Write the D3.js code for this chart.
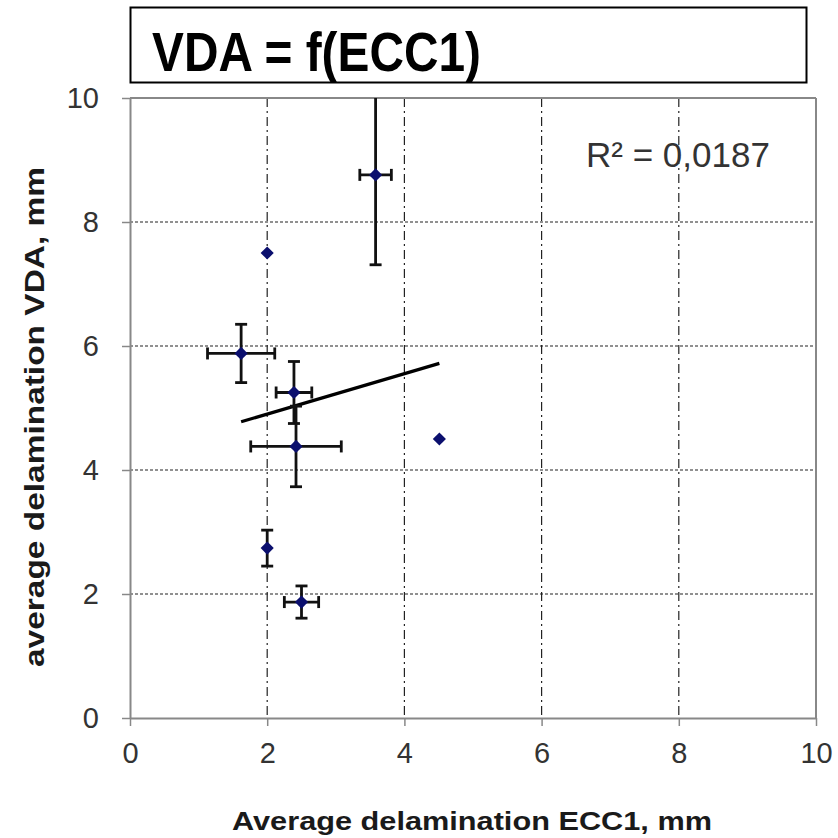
<!DOCTYPE html>
<html>
<head>
<meta charset="utf-8">
<script src="https://cdn.jsdelivr.net/npm/d3@7"></script>
<style>
  body { margin: 0; background: #fff; }
  text { font-family: Arial, "Liberation Sans", sans-serif; }
</style>
</head>
<body>
<div id="chart"></div>
<script>
// data
var ecc1 = [3.58, 2.0, 1.62, 2.39, 2.42, 4.51, 2.0, 2.5];
var vda = [8.76, 7.50, 5.88, 5.25, 4.38, 4.50, 2.74, 1.87];
var eccErr = [0.23, 0, 0.49, 0.26, 0.66, 0, 0, 0.25];
var vdaErr = [1.45, 0, 0.47, 0.50, 0.65, 0, 0.29, 0.26];
var trendCoef = [4.25, 0.326]; // intercept, slope
var rSquared = "R² = 0,0187";
var tickVals = [0, 2, 4, 6, 8, 10];

var width = 838, height = 838;
var plotLeft = 130, plotRight = 816, plotTop = 98, plotBottom = 718;

var svg = d3.select("#chart").append("svg")
  .attr("width", width)
  .attr("height", height);

var x = d3.scaleLinear().domain([0, 10]).range([plotLeft, plotRight]);
var y = d3.scaleLinear().domain([0, 10]).range([plotBottom, plotTop]);

// title box
svg.append("rect")
  .attr("x", 130.5).attr("y", 7.5)
  .attr("width", 676).attr("height", 75)
  .attr("fill", "#fff").attr("stroke", "#000").attr("stroke-width", 2);
svg.append("text")
  .attr("x", 152).attr("y", 71)
  .attr("font-size", 56).attr("font-weight", "bold")
  .attr("textLength", 329).attr("lengthAdjust", "spacingAndGlyphs")
  .text("VDA = f(ECC1)");

// gridlines
svg.append("g").selectAll("line")
  .data([2, 4, 6, 8]).join("line")
  .attr("x1", plotLeft).attr("x2", plotRight)
  .attr("y1", d => y(d)).attr("y2", d => y(d))
  .attr("stroke", "#222").attr("stroke-width", 1.2)
  .attr("stroke-dasharray", "3,2");
svg.append("g").selectAll("line")
  .data([2, 4, 6, 8]).join("line")
  .attr("x1", d => x(d)).attr("x2", d => x(d))
  .attr("y1", plotTop).attr("y2", plotBottom)
  .attr("stroke", "#222").attr("stroke-width", 1.2)
  .attr("stroke-dasharray", "9,4,2,4");

// plot frame (top and right)
svg.append("line").attr("x1", plotLeft).attr("x2", plotRight).attr("y1", plotTop).attr("y2", plotTop)
  .attr("stroke", "#888").attr("stroke-width", 2);
svg.append("line").attr("x1", plotRight).attr("x2", plotRight).attr("y1", plotTop).attr("y2", plotBottom)
  .attr("stroke", "#888").attr("stroke-width", 2);

// axes
var xAxis = svg.append("g")
  .attr("transform", "translate(0," + plotBottom + ")")
  .call(d3.axisBottom(x).tickValues(tickVals).tickSizeInner(8).tickSizeOuter(0).tickPadding(16));
var yAxis = svg.append("g")
  .attr("transform", "translate(" + plotLeft + ",0)")
  .call(d3.axisLeft(y).tickValues(tickVals).tickSizeInner(8).tickSizeOuter(0).tickPadding(23));

[xAxis, yAxis].forEach(function(ax) {
  ax.select(".domain").attr("stroke", "#888").attr("stroke-width", 2);
  ax.selectAll(".tick line").attr("stroke", "#888").attr("stroke-width", 1.5);
  ax.selectAll(".tick text")
    .attr("font-size", 29).attr("fill", "#333")
    .attr("font-family", "Arial, 'Liberation Sans', sans-serif");
});

// axis titles
svg.append("text")
  .attr("x", 472).attr("y", 830)
  .attr("text-anchor", "middle")
  .attr("font-size", 26).attr("font-weight", "bold").attr("fill", "#1a1a1a")
  .attr("textLength", 480).attr("lengthAdjust", "spacingAndGlyphs")
  .text("Average delamination ECC1, mm");
svg.append("text")
  .attr("transform", "translate(44,417)rotate(-90)")
  .attr("text-anchor", "middle")
  .attr("font-size", 28).attr("font-weight", "bold").attr("fill", "#1a1a1a")
  .attr("textLength", 500).attr("lengthAdjust", "spacingAndGlyphs")
  .text("average delamination VDA, mm");

// clip for error bars going past the top
svg.append("clipPath").attr("id", "plotClip")
  .append("rect").attr("x", plotLeft).attr("y", plotTop)
  .attr("width", plotRight - plotLeft).attr("height", plotBottom - plotTop);

var pts = ecc1.map(function(d, i) {
  return { x: d, y: vda[i], ex: eccErr[i], ey: vdaErr[i] };
});

// trend line
var tx = d3.extent(ecc1);
svg.append("line")
  .attr("x1", x(tx[0])).attr("y1", y(trendCoef[0] + trendCoef[1] * tx[0]))
  .attr("x2", x(tx[1])).attr("y2", y(trendCoef[0] + trendCoef[1] * tx[1]))
  .attr("stroke", "#000").attr("stroke-width", 3.2);

// error bars
var eb = svg.append("g").attr("clip-path", "url(#plotClip)")
  .attr("stroke", "#111").attr("stroke-width", 2.8);
var cap = 6;
pts.forEach(function(p) {
  if (p.ey > 0) {
    eb.append("line").attr("x1", x(p.x)).attr("x2", x(p.x))
      .attr("y1", y(p.y - p.ey)).attr("y2", y(p.y + p.ey));
    [p.y - p.ey, p.y + p.ey].forEach(function(v) {
      eb.append("line").attr("x1", x(p.x) - cap).attr("x2", x(p.x) + cap)
        .attr("y1", y(v)).attr("y2", y(v));
    });
  }
  if (p.ex > 0) {
    eb.append("line").attr("y1", y(p.y)).attr("y2", y(p.y))
      .attr("x1", x(p.x - p.ex)).attr("x2", x(p.x + p.ex));
    [p.x - p.ex, p.x + p.ex].forEach(function(v) {
      eb.append("line").attr("y1", y(p.y) - cap).attr("y2", y(p.y) + cap)
        .attr("x1", x(v)).attr("x2", x(v));
    });
  }
});

// markers
svg.append("g").selectAll("path")
  .data(pts).join("path")
  .attr("d", d3.symbol(d3.symbolDiamond2, 110))
  .attr("transform", d => "translate(" + x(d.x) + "," + y(d.y) + ")")
  .attr("fill", "#0b0f6e");

// R squared label
svg.append("text")
  .attr("x", 586).attr("y", 167)
  .attr("font-size", 35).attr("fill", "#333")
  .text(rSquared);
</script>
</body>
</html>
